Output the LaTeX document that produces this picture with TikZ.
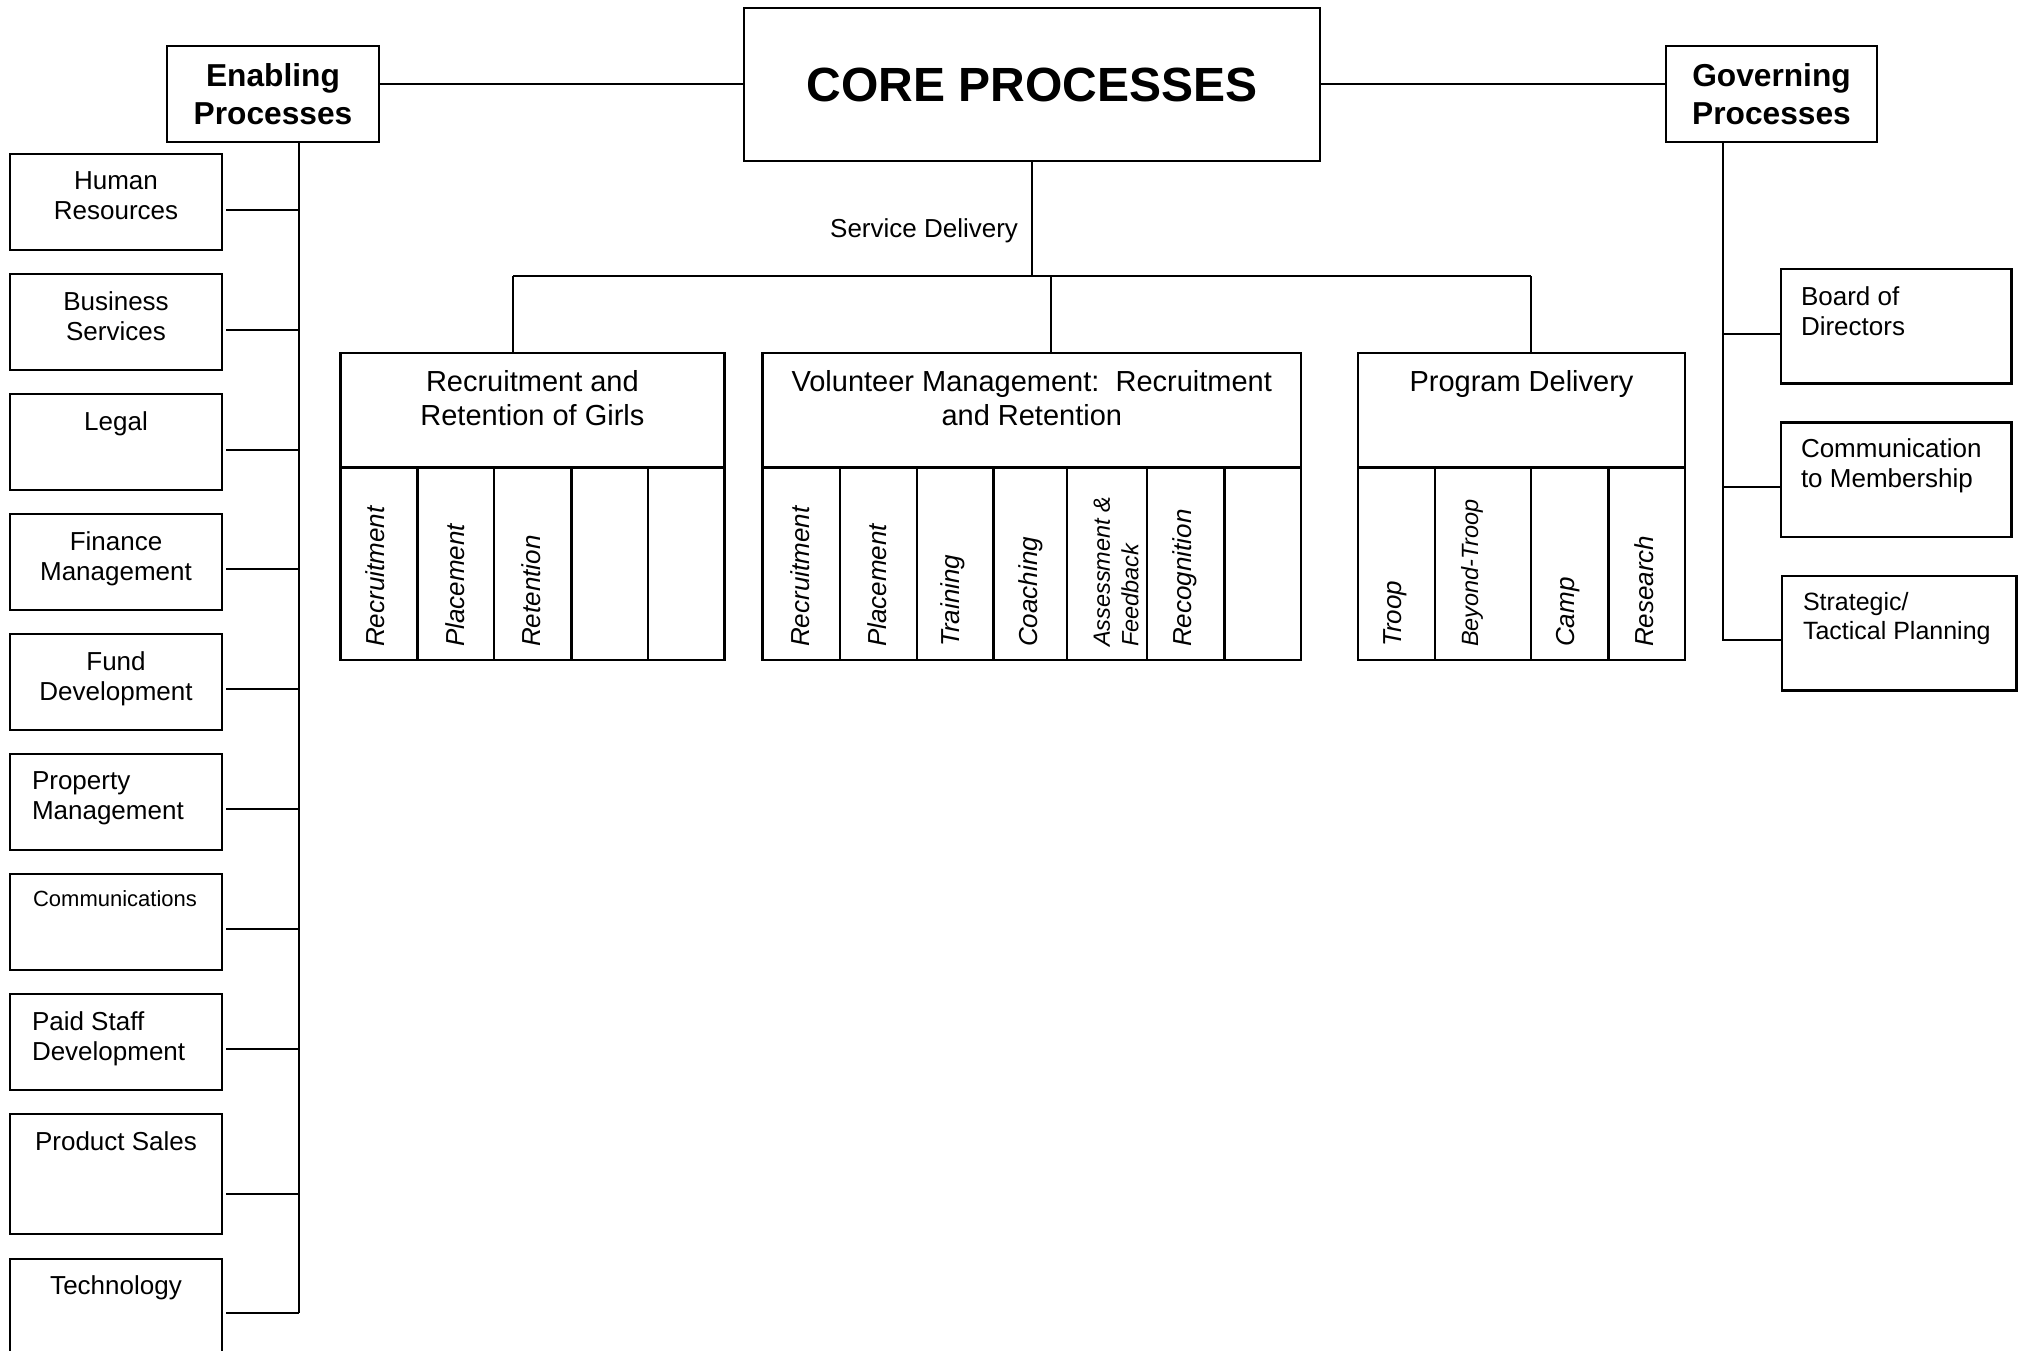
\documentclass[tikz,border=0pt]{standalone}
\usepackage{fontspec}
\setmainfont{Liberation Sans}
\begin{document}
\begin{tikzpicture}[x=1pt,y=-1pt,
  box/.style={draw, line width=2.4pt, inner sep=0pt, outer sep=0pt, anchor=north west},
  conn/.style={line width=2pt},
  lbl/.style={inner sep=0pt, outer sep=0pt, font=\fontsize{26}{30.5}\selectfont},
  hdr/.style={inner sep=0pt, outer sep=0pt, anchor=north, align=center, font=\fontsize{29}{33.5}\selectfont},
  bigbold/.style={font=\fontsize{31.7}{38}\selectfont\bfseries, align=center},
  vlab/.style={inner sep=0pt, rotate=90, anchor=west, font=\fontsize{26}{30}\selectfont\itshape},
  vlabs/.style={inner sep=0pt, rotate=90, anchor=west, align=left, font=\fontsize{23.5}{28.5}\selectfont\itshape},
]
\useasboundingbox (0,0) rectangle (2019,1351);
\clip (0,0) rectangle (2019,1351);

% top row
\node[box, minimum width=576pt, minimum height=153pt, font=\fontsize{48}{56}\selectfont\bfseries] (core) at (744,8) {CORE PROCESSES};
\node[box, bigbold, minimum width=212pt, minimum height=96pt] (enab) at (167,46) {Enabling\\Processes};
\node[box, bigbold, minimum width=211pt, minimum height=96pt] (gov) at (1666,46) {Governing\\Processes};
\draw[conn] (core.west -| enab.east) -- (core.west);
\draw[conn] (core.east) -- (core.east -| gov.west);

% enabling processes (left)
\coordinate (sp) at (298.5,1313);
\draw[conn] (enab.south -| sp) -- (sp);
\foreach \n/\t/\h/\c in {hr/154/96/55.7, bs/274/96/55.7, lg/394/96/55.7, fm/514/96/55.3, fd/634/96/55.4, pm/754/96/55.2, cm/874/96/55, ps/994/96/55, pss/1114/120/80, tech/1259/130/54}{
  \node[box, minimum width=212pt, minimum height=\h pt] (\n) at (10,\t) {};
  \path (\n.north east) ++(4,\c) coordinate (\n c);
  \draw[conn] (\n c) -- (\n c -| sp);
}
\node[lbl, anchor=north, align=center] (hrt) at (116,171.4) {Human\\Resources};
\node[lbl, anchor=north, align=center] (bst) at (116,291.4) {Business\\Services};
\node[lbl, anchor=north, align=center] (lgt) at (116,411.4) {Legal};
\node[lbl, anchor=north, align=center] (fmt) at (116,531.4) {Finance\\Management};
\node[lbl, anchor=north, align=center] (fdt) at (116,651.4) {Fund\\Development};
\node[lbl, anchor=north west, align=left] (pmt) at (32,771.4) {Property\\Management};
\node[lbl, anchor=north, align=center, font=\fontsize{22}{26}\selectfont] (cmt) at (115,890.9) {Communications};
\node[lbl, anchor=north west, align=left] (pst) at (32,1011.4) {Paid Staff\\Development};
\node[lbl, anchor=north, align=center] (psst) at (116,1131.4) {Product Sales};
\node[lbl, anchor=north, align=center] (techt) at (116,1276) {Technology};

% governing processes (right)
\coordinate (gsp) at (1722.5,640);
\node[box, minimum width=230.5pt, minimum height=114.5pt] (board) at (1781,269) {};
\node[box, minimum width=230.5pt, minimum height=114.2pt] (comm) at (1781,422.5) {};
\node[box, minimum width=234.5pt, minimum height=114.7pt] (strat) at (1782,575.7) {};
\draw[conn] (gov.south -| gsp) -- (gsp) -- (gsp -| strat.west);
\path (board.north west) ++(0,64.5) coordinate (bc);
\path (comm.north west) ++(0,64.5) coordinate (cc);
\draw[conn] (bc -| gsp) -- (bc);
\draw[conn] (cc -| gsp) -- (cc);
\node[lbl, anchor=north west, align=left] (boardt) at (1801,286.4) {Board of\\Directors};
\node[lbl, anchor=north west, align=left] (commt) at (1801,438.4) {Communication\\to Membership};
\node[lbl, anchor=north west, align=left, font=\fontsize{25}{29}\selectfont] (stratt) at (1803,592.1) {Strategic/\\Tactical Planning};

% service delivery
\coordinate (b1) at (513,276);
\coordinate (b2) at (1051,276);
\coordinate (b3) at (1531,276);
\draw[conn] (core.south) -- (core.south |- b1);
\draw[conn] (b1) -- (b3);
\node[lbl, anchor=base east] (sd) at (1018,237) {Service Delivery};

% Recruitment and Retention of Girls
\node[box, minimum width=383.9pt, minimum height=114.5pt] (rrg) at (340.4,353) {};
\foreach \a/\b [count=\i] in {340.4/417.6, 417.6/494.1, 494.1/571.3, 571.3/647.8, 647.8/724.3}
  \node[box, minimum width={(\b-\a)*1pt}, minimum height=192.5pt] (rc\i) at (\a,467.5) {};
\draw[conn] (b1) -- (b1 |- rrg.north);
\node[hdr] (rrgt) at (532.4,370.7) {Recruitment and\\Retention of Girls};
\node[vlab] (rt1) at (375,647) {Recruitment};
\node[vlab] (rt2) at (455,647) {Placement};
\node[vlab] (rt3) at (531,647) {Retention};

% Volunteer Management
\node[box, minimum width=538.3pt, minimum height=114.5pt] (vol) at (762.6,353) {};
\foreach \a/\b [count=\i] in {762.6/839.8, 839.8/917, 917/993.5, 993.5/1066.8, 1066.8/1147.2, 1147.2/1224.3, 1224.3/1300.9}
  \node[box, minimum width={(\b-\a)*1pt}, minimum height=192.5pt] (vc\i) at (\a,467.5) {};
\draw[conn] (b2) -- (b2 |- vol.north);
\node[hdr] (volt) at (1031.8,370.7) {Volunteer Management:\ \ Recruitment\\and Retention};
\node[vlab] (vt1) at (800,647) {Recruitment};
\node[vlab] (vt2) at (877,647) {Placement};
\node[vlab] (vt3) at (953,647) {Training};
\node[vlab] (vt4) at (1031,647) {Coaching};
\node[vlabs] (vt5) at (1116,647) {Assessment \&\\Feedback};
\node[vlab] (vt6) at (1185,647) {Recognition};

% Program Delivery
\node[box, minimum width=327pt, minimum height=114.5pt] (pd) at (1358,353) {};
\foreach \a/\b [count=\i] in {1358/1435, 1435/1531, 1531/1608.3, 1608.3/1685}
  \node[box, minimum width={(\b-\a)*1pt}, minimum height=192.5pt] (pc\i) at (\a,467.5) {};
\draw[conn] (b3) -- (b3 |- pd.north);
\node[hdr] (pdt) at (1521.5,370.7) {Program Delivery};
\node[vlab] (pt1) at (1395,647) {Troop};
\node[vlabs] (pt2) at (1472,647) {Beyond-Troop};
\node[vlab] (pt3) at (1568,647) {Camp};
\node[vlab] (pt4) at (1644,647) {Research};
\end{tikzpicture}
\end{document}
